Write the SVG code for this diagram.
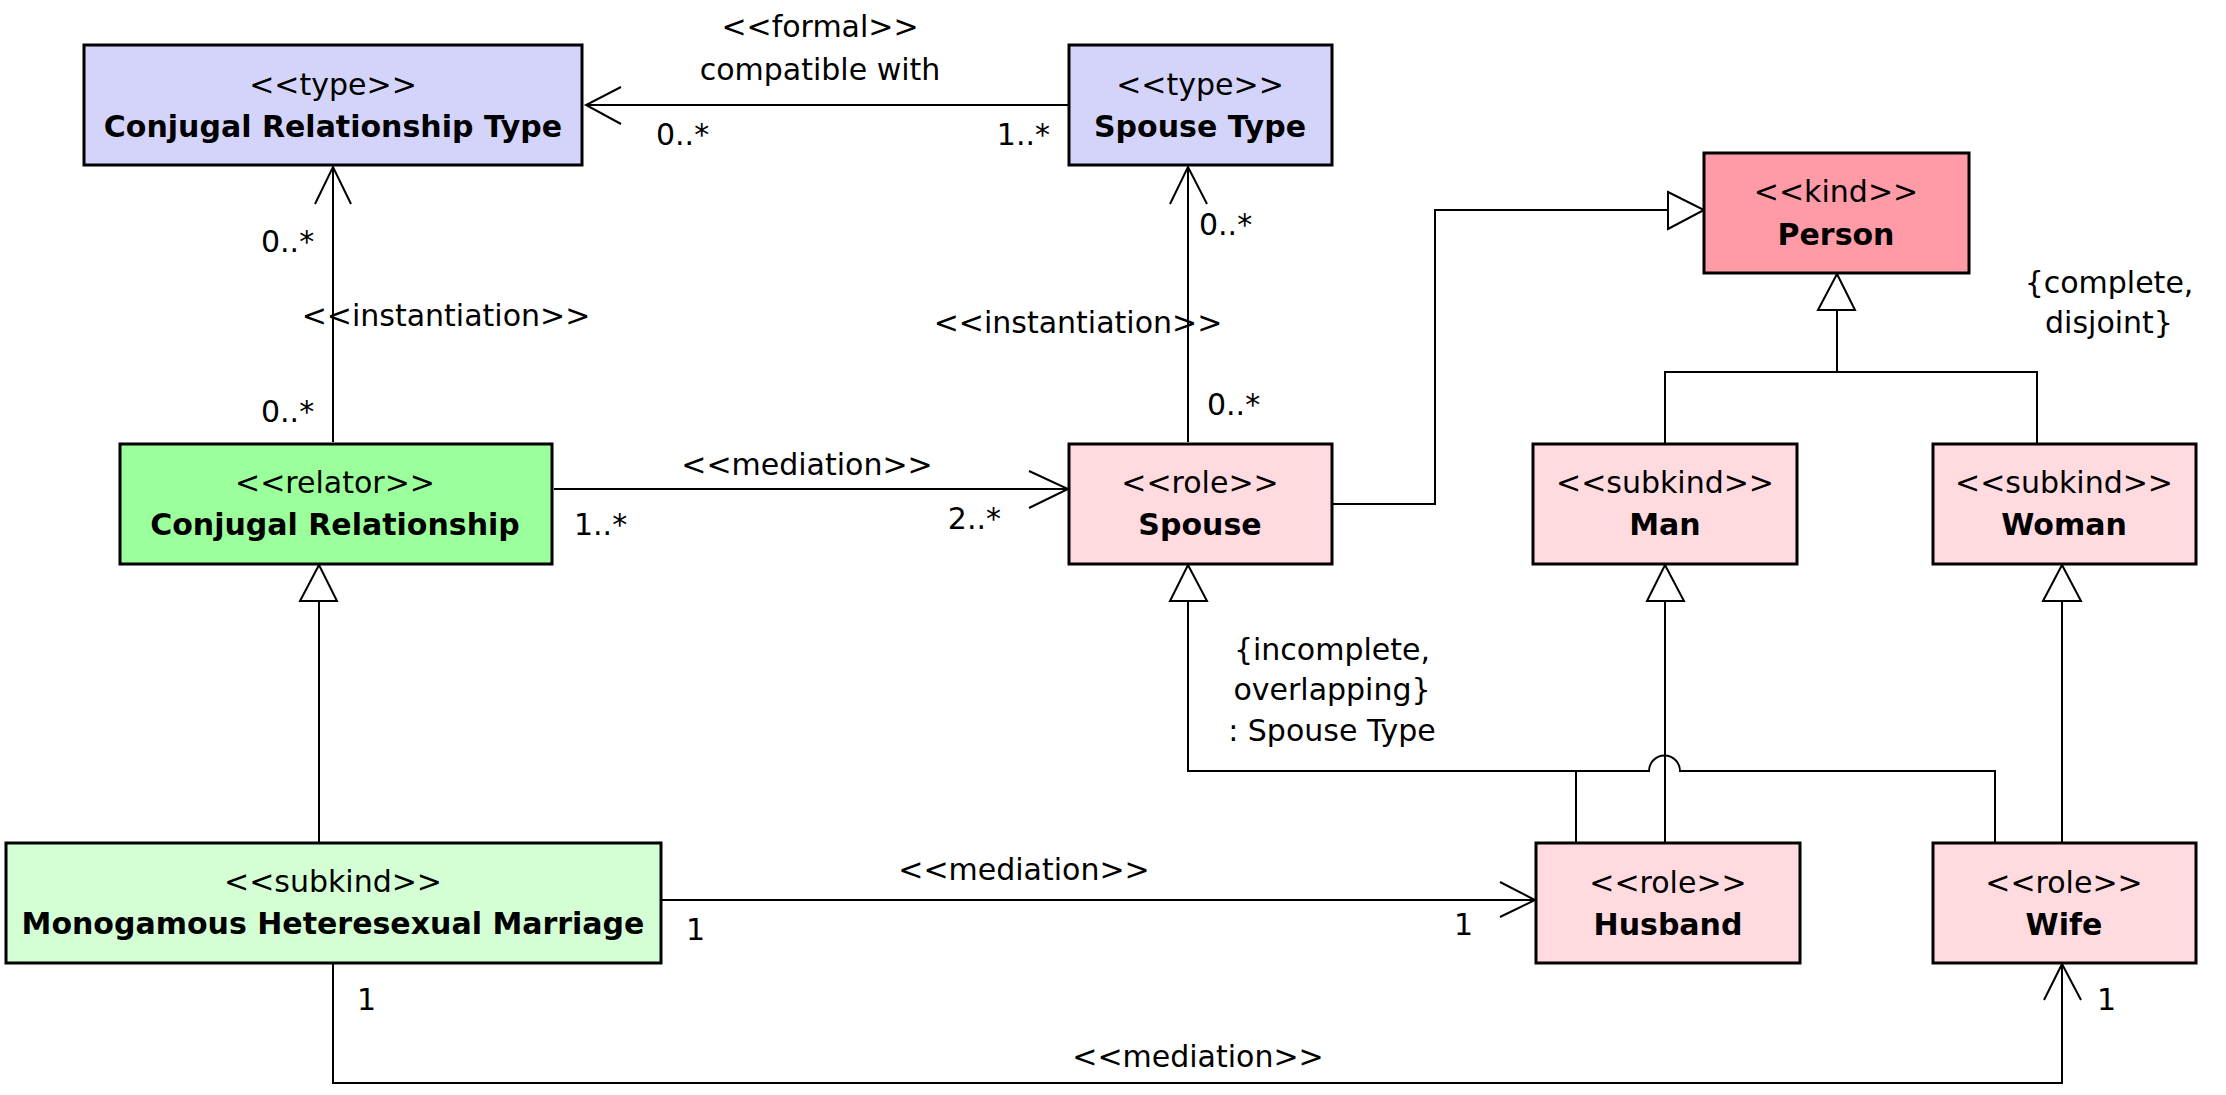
<svg xmlns="http://www.w3.org/2000/svg" width="2226" height="1095" viewBox="0 0 2226 1095">
<style>
text{font-family:"DejaVu Sans","Liberation Sans",sans-serif;font-size:30px;fill:#000}
.c{text-anchor:middle}
.e{text-anchor:end}
.b{font-weight:bold}
.box{stroke:#000;stroke-width:3}
.type{fill:#D4D4FA}
.kind{fill:#FF9BA6}
.role{fill:#FFDADF}
.relator{fill:#9BFF9B}
.sub{fill:#D4FFD4}
.ln{fill:none;stroke:#000;stroke-width:2}
.tri{fill:#fff;stroke:#000;stroke-width:2}
</style>
<rect width="2226" height="1095" fill="#fff"/>
<g id="connectors">
  <line class="ln" x1="1068" y1="105" x2="586" y2="105"/>
  <polyline class="ln" points="621,87 586,105 621,124"/>
  <line class="ln" x1="333" y1="442" x2="333" y2="167"/>
  <polyline class="ln" points="315,204 333,167 351,204"/>
  <line class="ln" x1="1188" y1="442" x2="1188" y2="167"/>
  <polyline class="ln" points="1170,204 1188,167 1207,204"/>
  <line class="ln" x1="554" y1="489" x2="1068" y2="489"/>
  <polyline class="ln" points="1029,471 1068,489 1029,508"/>
  <polyline class="ln" points="1333,504 1435,504 1435,210 1668,210"/>
  <polygon class="tri" points="1668,192 1704,210 1668,229"/>
  <polygon class="tri" points="1818,310 1837,274 1855,310"/>
  <line class="ln" x1="1837" y1="310" x2="1837" y2="372"/>
  <polyline class="ln" points="1665,443 1665,372 2037,372 2037,443"/>
  <polygon class="tri" points="300,601 319,565 337,601"/>
  <line class="ln" x1="319" y1="601" x2="319" y2="842"/>
  <polygon class="tri" points="1170,601 1188,565 1207,601"/>
  <path class="ln" d="M1188,601 V771 H1649 A15.5,15.5 0 0 1 1680,771 H1995 V842"/>
  <line class="ln" x1="1576" y1="771" x2="1576" y2="842"/>
  <polygon class="tri" points="1647,601 1665,565 1684,601"/>
  <line class="ln" x1="1665" y1="601" x2="1665" y2="842"/>
  <polygon class="tri" points="2043,601 2062,565 2081,601"/>
  <line class="ln" x1="2062" y1="601" x2="2062" y2="842"/>
  <line class="ln" x1="662" y1="900" x2="1535" y2="900"/>
  <polyline class="ln" points="1500,882 1535,900 1500,917"/>
  <polyline class="ln" points="333,964 333,1083 2062,1083 2062,964"/>
  <polyline class="ln" points="2044,1000 2062,964 2081,1000"/>
</g>
<g id="labels">
  <text class="c" x="820" y="37">&lt;&lt;formal&gt;&gt;</text>
  <text class="c" x="820" y="80">compatible with</text>
  <text x="656" y="145">0..*</text>
  <text class="e" x="1050" y="145">1..*</text>
  <text x="261" y="252">0..*</text>
  <text class="c" x="446" y="326">&lt;&lt;instantiation&gt;&gt;</text>
  <text x="261" y="422">0..*</text>
  <text x="1199" y="235">0..*</text>
  <text class="c" x="1078" y="333">&lt;&lt;instantiation&gt;&gt;</text>
  <text x="1207" y="415">0..*</text>
  <text class="c" x="807" y="475">&lt;&lt;mediation&gt;&gt;</text>
  <text x="574" y="535">1..*</text>
  <text class="e" x="1001" y="529">2..*</text>
  <text class="c" x="2109" y="293">{complete,</text>
  <text class="c" x="2109" y="333">disjoint}</text>
  <text class="c" x="1332" y="660">{incomplete,</text>
  <text class="c" x="1332" y="700">overlapping}</text>
  <text class="c" x="1332" y="741">: Spouse Type</text>
  <text class="c" x="1024" y="880">&lt;&lt;mediation&gt;&gt;</text>
  <text x="686" y="940">1</text>
  <text class="e" x="1473" y="935">1</text>
  <text class="c" x="1198" y="1067">&lt;&lt;mediation&gt;&gt;</text>
  <text x="357" y="1010">1</text>
  <text x="2097" y="1010">1</text>
</g>
<g id="conjugal-relationship-type">
  <rect class="box type" x="84" y="45" width="498" height="120"/>
  <text class="c" x="333" y="95">&lt;&lt;type&gt;&gt;</text>
  <text class="c b" x="333" y="137">Conjugal Relationship Type</text>
</g>
<g id="spouse-type">
  <rect class="box type" x="1069" y="45" width="263" height="120"/>
  <text class="c" x="1200" y="95">&lt;&lt;type&gt;&gt;</text>
  <text class="c b" x="1200" y="137">Spouse Type</text>
</g>
<g id="person">
  <rect class="box kind" x="1704" y="153" width="265" height="120"/>
  <text class="c" x="1836" y="202">&lt;&lt;kind&gt;&gt;</text>
  <text class="c b" x="1836" y="245">Person</text>
</g>
<g id="conjugal-relationship">
  <rect class="box relator" x="120" y="444" width="432" height="120"/>
  <text class="c" x="335" y="493">&lt;&lt;relator&gt;&gt;</text>
  <text class="c b" x="335" y="535">Conjugal Relationship</text>
</g>
<g id="spouse">
  <rect class="box role" x="1069" y="444" width="263" height="120"/>
  <text class="c" x="1200" y="493">&lt;&lt;role&gt;&gt;</text>
  <text class="c b" x="1200" y="535">Spouse</text>
</g>
<g id="man">
  <rect class="box role" x="1533" y="444" width="264" height="120"/>
  <text class="c" x="1665" y="493">&lt;&lt;subkind&gt;&gt;</text>
  <text class="c b" x="1665" y="535">Man</text>
</g>
<g id="woman">
  <rect class="box role" x="1933" y="444" width="263" height="120"/>
  <text class="c" x="2064" y="493">&lt;&lt;subkind&gt;&gt;</text>
  <text class="c b" x="2064" y="535">Woman</text>
</g>
<g id="monogamous-heterosexual-marriage">
  <rect class="box sub" x="6" y="843" width="655" height="120"/>
  <text class="c" x="333" y="892">&lt;&lt;subkind&gt;&gt;</text>
  <text class="c b" x="333" y="934">Monogamous Heteresexual Marriage</text>
</g>
<g id="husband">
  <rect class="box role" x="1536" y="843" width="264" height="120"/>
  <text class="c" x="1668" y="893">&lt;&lt;role&gt;&gt;</text>
  <text class="c b" x="1668" y="935">Husband</text>
</g>
<g id="wife">
  <rect class="box role" x="1933" y="843" width="263" height="120"/>
  <text class="c" x="2064" y="893">&lt;&lt;role&gt;&gt;</text>
  <text class="c b" x="2064" y="935">Wife</text>
</g>
</svg>
